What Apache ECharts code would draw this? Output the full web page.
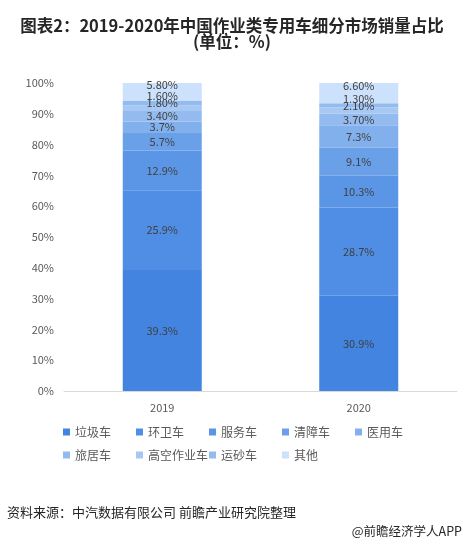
<!DOCTYPE html>
<html>
<head>
<meta charset="utf-8">
<script src="https://cdn.jsdelivr.net/npm/echarts@6/dist/echarts.min.js"></script>
<style>
  html, body { margin: 0; padding: 0; background: #fff; }
  #chart { width: 464px; height: 546px; }
</style>
</head>
<body>
<div id="chart"></div>
<script>
// 年份
const years = ['2019', '2020'];
// 各细分车型（自下而上堆叠）
const seriesNames = ['垃圾车', '环卫车', '服务车', '清障车', '医用车', '旅居车', '高空作业车', '运砂车', '其他'];
// 占比（%），保留原图的小数写法
const values = {
  '垃圾车': ['39.3', '30.9'],
  '环卫车': ['25.9', '28.7'],
  '服务车': ['12.9', '10.3'],
  '清障车': ['5.7', '9.1'],
  '医用车': ['3.7', '7.3'],
  '旅居车': ['3.40', '3.70'],
  '高空作业车': ['1.80', '2.10'],
  '运砂车': ['1.60', '1.30'],
  '其他': ['5.80', '6.60']
};
const yTicks = [0, 10, 20, 30, 40, 50, 60, 70, 80, 90, 100];

const colors = ['#4284e0', '#4f8ee4', '#5b96e6', '#6aa0e8', '#82b0ec', '#94bbef', '#a6c8f3', '#93bbee', '#cce1fc'];
// 顶部几个小块的标签在原图里往上挪了一点
const labelShift = { '高空作业车': -5, '运砂车': -7, '其他': -7 };
const font = '"Noto Sans CJK SC", sans-serif';

const chart = echarts.init(document.getElementById('chart'));

const series = seriesNames.map((name, i) => ({
  name: name,
  type: 'bar',
  stack: 'total',
  barWidth: 79,
  itemStyle: { color: colors[i] },
  label: {
    show: true,
    position: 'inside',
    offset: [0, labelShift[name] || 0],
    color: '#404040',
    fontSize: 11,
    fontFamily: font,
    formatter: p => values[name][p.dataIndex] + '%'
  },
  data: values[name].map(Number)
}));

// 每个图例单独放一个，固定间距
const legends = seriesNames.map((name, i) => ({
  data: [name],
  left: 63 + (i % 5) * 73,
  top: i < 5 ? 426 : 449,
  itemWidth: 7,
  itemHeight: 7,
  itemGap: 0,
  icon: 'rect',
  padding: 0,
  selectedMode: false,
  textStyle: { color: '#595959', fontSize: 12, fontFamily: font }
}));

chart.setOption({
  animation: false,
  color: colors,
  title: {
    text: '图表2：2019-2020年中国作业类专用车细分市场销量占比\n(单位：%)',
    left: 'center',
    top: 13,
    textStyle: {
      color: '#262626',
      fontSize: 16.5,
      fontWeight: 'bold',
      fontFamily: font,
      lineHeight: 16
    }
  },
  legend: legends,
  grid: { left: 64, right: 7, top: 83, bottom: 155 },
  xAxis: {
    type: 'category',
    data: years,
    axisLine: { lineStyle: { color: '#d9d9d9' } },
    axisTick: { show: false },
    axisLabel: { color: '#595959', fontSize: 11, fontFamily: font, margin: 11 }
  },
  yAxis: {
    type: 'value',
    min: yTicks[0],
    max: yTicks[yTicks.length - 1],
    interval: 10,
    axisLine: { show: false },
    axisTick: { show: false },
    splitLine: { show: false },
    axisLabel: { color: '#595959', fontSize: 11, fontFamily: font, margin: 10, formatter: '{value}%' }
  },
  series: series,
  graphic: [
    {
      type: 'text',
      left: 7,
      top: 506,
      style: { text: '资料来源：中汽数据有限公司 前瞻产业研究院整理', fill: '#262626', font: '13px ' + font }
    },
    {
      type: 'text',
      right: 2,
      top: 525,
      style: { text: '@前瞻经济学人APP', fill: '#262626', font: '12.5px ' + font }
    }
  ]
});
</script>
</body>
</html>
